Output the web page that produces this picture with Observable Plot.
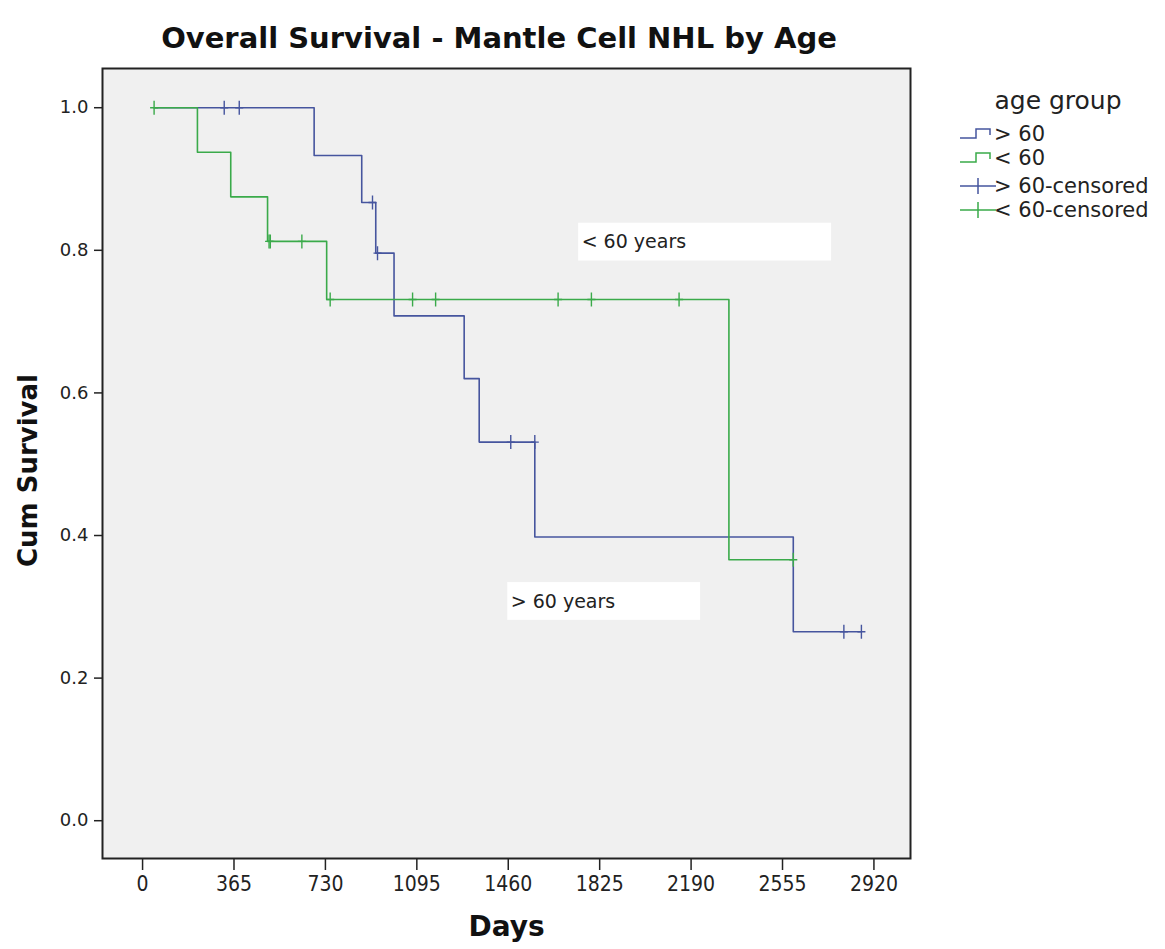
<!DOCTYPE html>
<html>
<head>
<meta charset="utf-8">
<script src="https://cdn.jsdelivr.net/npm/d3@7"></script>
<script src="https://cdn.jsdelivr.net/npm/@observablehq/plot@0.6"></script>
<style>
  body { margin: 0; background: white; }
  #wrap { position: relative; width: 1165px; height: 949px; font-family: "DejaVu Sans", sans-serif; }
  #title { position: absolute; left: 0; width: 998px; top: 21px; text-align: center; font: bold 29px "DejaVu Sans", sans-serif; color: #111; }
  #legend { position: absolute; left: 955px; top: 78px; }
</style>
</head>
<body>
<div id="wrap">
  <div id="chart"></div>
  <div id="title">Overall Survival - Mantle Cell NHL by Age</div>
  <div id="legend"></div>
</div>
<script>
// ---- data ----
const groups = ["> 60", "< 60"];
const groupColors = ["#46559e", "#3aaa4a"];

// step curve (event times in days, cumulative survival)
const olderDays = [46, 685, 875, 931, 1004, 1284, 1344, 1566, 2598, 2870];
const olderSurv = [1.0, 0.933, 0.867, 0.796, 0.708, 0.620, 0.531, 0.398, 0.265, 0.265];
const youngerDays = [46, 219, 352, 499, 735, 2341, 2598];
const youngerSurv = [1.0, 0.9375, 0.875, 0.8125, 0.731, 0.366, 0.366];

// censored observations
const olderCensDays = [326, 386, 918, 938, 1470, 1566, 2800, 2870];
const olderCensSurv = [1.0, 1.0, 0.867, 0.796, 0.531, 0.531, 0.265, 0.265];
const youngerCensDays = [46, 505, 510, 636, 749, 1078, 1170, 1659, 1792, 2142, 2598];
const youngerCensSurv = [1.0, 0.8125, 0.8125, 0.8125, 0.731, 0.731, 0.731, 0.731, 0.731, 0.731, 0.366];

// axes
const xTicks = [0, 365, 730, 1095, 1460, 1825, 2190, 2555, 2920];
const yTicks = [0, 0.2, 0.4, 0.6, 0.8, 1.0];

// annotation labels (text boxes in data units)
const noteText = ["< 60 years", "> 60 years"];
const noteX1 = [1741, 1458];
const noteX2 = [2751, 2228];
const noteY1 = [0.785, 0.281];
const noteY2 = [0.838, 0.334];

// ---- build tables ----
const older = olderDays.map((d, i) => ({x: d, y: olderSurv[i], g: groups[0]}));
const younger = youngerDays.map((d, i) => ({x: d, y: youngerSurv[i], g: groups[1]}));
const olderCens = olderCensDays.map((d, i) => ({x: d, y: olderCensSurv[i], g: groups[0]}));
const youngerCens = youngerCensDays.map((d, i) => ({x: d, y: youngerCensSurv[i], g: groups[1]}));
const notes = noteText.map((t, i) => ({t, x1: noteX1[i], x2: noteX2[i], y1: noteY1[i], y2: noteY2[i]}));

// thin cross symbol for censor marks
const crossSymbol = {
  draw(ctx, size) {
    const h = 7, w = 4;
    ctx.moveTo(0, -h); ctx.lineTo(0, h);
    ctx.moveTo(-w, 0); ctx.lineTo(w, 0);
  }
};

const chart = Plot.plot({
  width: 1165,
  height: 949,
  marginLeft: 102,
  marginRight: 255,
  marginTop: 68,
  marginBottom: 91,
  style: {background: "white", fontFamily: "DejaVu Sans, sans-serif", fontSize: "16px", color: "#222"},
  x: {domain: [-160, 3066]},
  y: {domain: [-0.053, 1.055]},
  marks: [
    Plot.frame({fill: "#f0f0f0"}),
    Plot.rect(notes, {x1: "x1", x2: "x2", y1: "y1", y2: "y2", fill: "white"}),
    Plot.text(notes, {x: "x1", y: d => (d.y1 + d.y2) / 2, text: "t", textAnchor: "start", dx: 3, fontSize: 19, fill: "#222", fontFamily: "DejaVu Sans"}),
    Plot.line(older, {x: "x", y: "y", curve: "step-after", stroke: groupColors[0], strokeWidth: 1.6}),
    Plot.line(younger, {x: "x", y: "y", curve: "step-after", stroke: groupColors[1], strokeWidth: 1.6}),
    Plot.dot(olderCens, {x: "x", y: "y", symbol: crossSymbol, r: 5, stroke: groupColors[0], fill: "none", strokeWidth: 1.4}),
    Plot.dot(youngerCens, {x: "x", y: "y", symbol: crossSymbol, r: 5, stroke: groupColors[1], fill: "none", strokeWidth: 1.4}),
    Plot.frame({stroke: "#222", strokeWidth: 2}),
    Plot.axisX({ticks: xTicks, tickSize: 12, tickPadding: 6, tickFormat: d => String(d), label: null, fontSize: 21, fontFamily: "DejaVu Sans Condensed, DejaVu Sans", stroke: "#222", strokeWidth: 1.5}),
    Plot.axisY({ticks: yTicks, tickSize: 8, tickPadding: 6, tickFormat: d3.format(".1f"), label: null, fontSize: 18, stroke: "#222", strokeWidth: 1.5}),
    Plot.text(["Days"], {frameAnchor: "bottom", dy: 77, fontSize: 28, fontWeight: "bold", fill: "#111", fontFamily: "DejaVu Sans"}),
    Plot.text(["Cum Survival"], {frameAnchor: "left", textAnchor: "middle", dx: -74, dy: 7, rotate: -90, fontSize: 26, fontWeight: "bold", fill: "#111", fontFamily: "DejaVu Sans"})
  ]
});
document.getElementById("chart").appendChild(chart);

// ---- legend ----
const leg = d3.select("#legend").append("svg").attr("width", 210).attr("height", 150)
  .style("font-family", "DejaVu Sans, sans-serif");
leg.append("text").attr("x", 103).attr("y", 31).attr("text-anchor", "middle")
  .attr("font-size", 25).attr("fill", "#222").text("age group");
const entries = [
  {label: groups[0], color: groupColors[0], kind: "step"},
  {label: groups[1], color: groupColors[1], kind: "step"},
  {label: groups[0] + "-censored", color: groupColors[0], kind: "cross"},
  {label: groups[1] + "-censored", color: groupColors[1], kind: "cross"}
];
const rowY = [56, 80, 108, 132];
entries.forEach((e, i) => {
  const y = rowY[i];
  const g = leg.append("g").attr("transform", `translate(5,${y})`);
  if (e.kind === "step") {
    g.append("path").attr("d", "M0,4 H16 V-5 H30 V1").attr("fill", "none").attr("stroke", e.color).attr("stroke-width", 1.5);
  } else {
    g.append("path").attr("d", "M0,0 H36 M18,-8 V8").attr("fill", "none").attr("stroke", e.color).attr("stroke-width", 1.5);
  }
  leg.append("text").attr("x", 39).attr("y", y + 7).attr("font-size", 21).attr("fill", "#222").text(e.label);
});
</script>
</body>
</html>
